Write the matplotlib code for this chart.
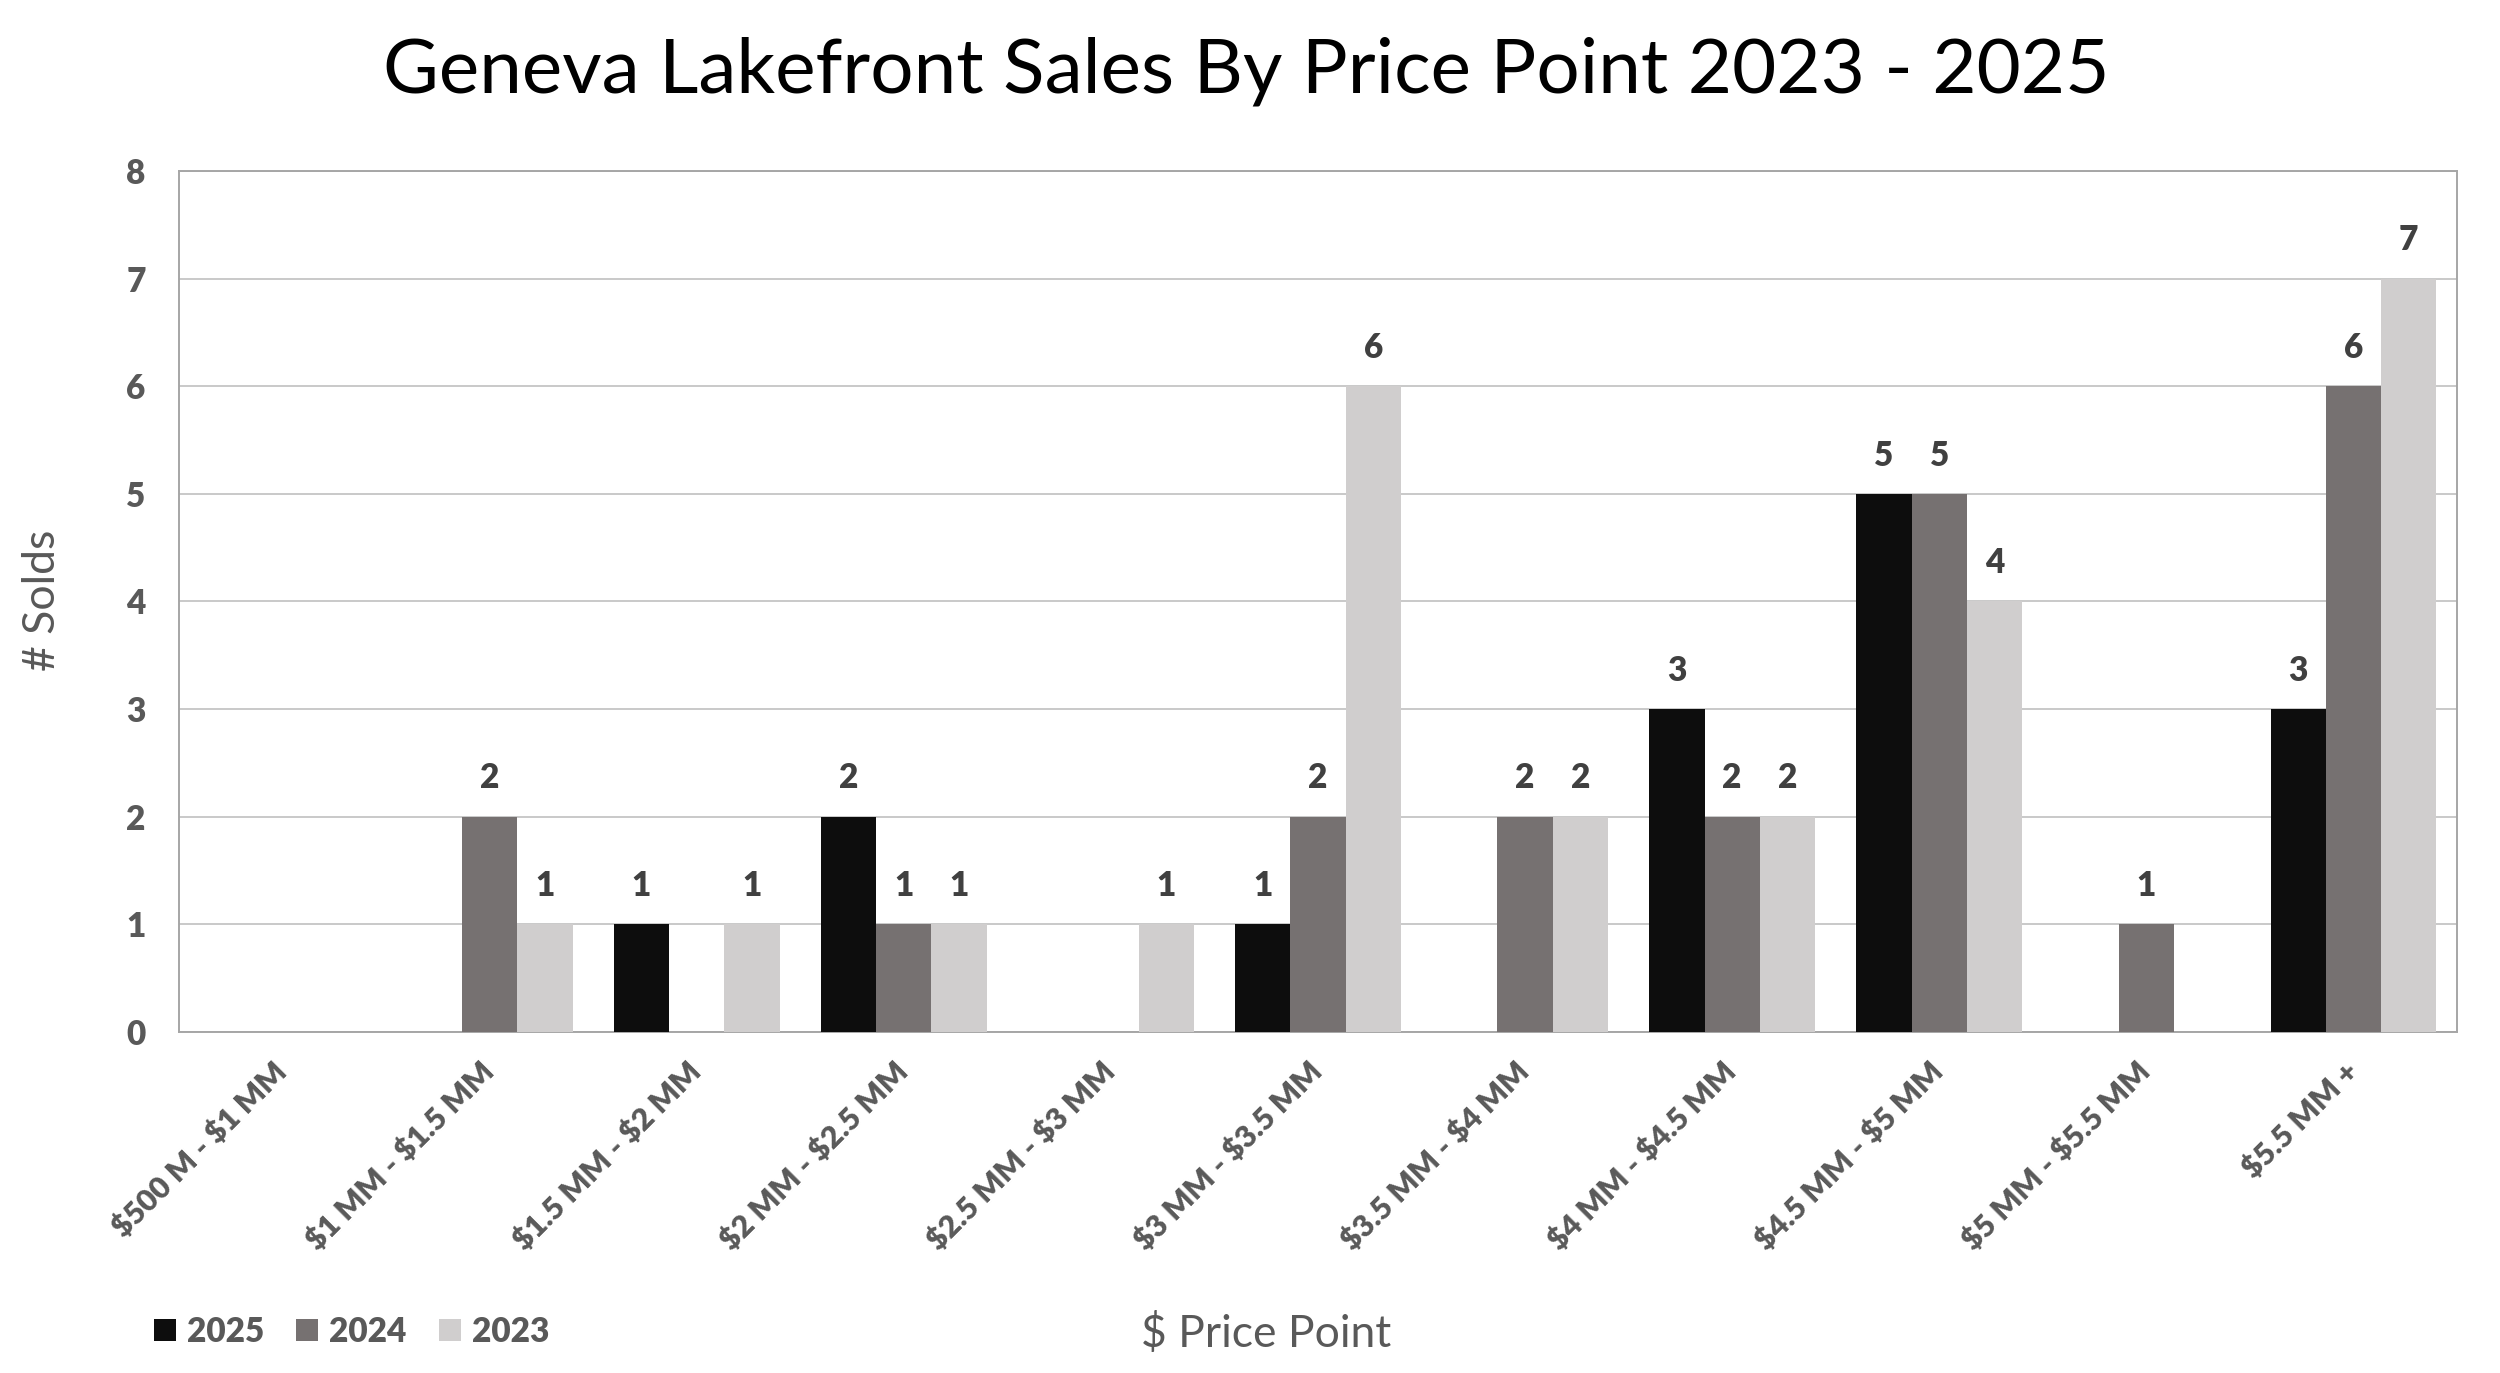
import numpy as np
import matplotlib
matplotlib.use("Agg")
import matplotlib.pyplot as plt
import matplotlib.transforms as mtransforms
from matplotlib.patches import Patch

categories = ["$500 M - $1 MM", "$1 MM - $1.5 MM", "$1.5 MM - $2 MM", "$2 MM - $2.5 MM",
              "$2.5 MM - $3 MM", "$3 MM - $3.5 MM", "$3.5 MM - $4 MM", "$4 MM - $4.5 MM",
              "$4.5 MM - $5 MM", "$5 MM - $5.5 MM", "$5.5 MM +"]
sold_2025 = [0, 0, 1, 2, 0, 1, 0, 3, 5, 0, 3]
sold_2024 = [0, 2, 0, 1, 0, 2, 2, 2, 5, 1, 6]
sold_2023 = [0, 1, 1, 1, 1, 6, 2, 2, 4, 0, 7]
years = ["2025", "2024", "2023"]
colors = ["#0d0d0d", "#767171", "#d0cece"]

plt.rcParams['font.family'] = ['Lato', 'DejaVu Sans']
plt.rcParams['text.parse_math'] = False
grey = "#595959"

fig = plt.figure(figsize=(25, 13.73), dpi=100)
ax = fig.add_axes([0.0716, 0.2484, 0.9112, 0.6271])

x = np.arange(len(categories))
w = 0.267
series = [sold_2025, sold_2024, sold_2023]
for k, vals in enumerate(series):
    bars = ax.bar(x + (k - 1) * w, vals, w, color=colors[k], zorder=3, linewidth=0)
    ax.bar_label(bars, labels=[str(v) if v else "" for v in vals], padding=16,
                 fontsize=24, fontweight='heavy', color="#404040")

ax.set_xlim(-0.5, len(categories) - 0.5)
ax.set_ylim(0, 8)
ax.set_yticks(range(9))
ax.set_yticklabels([str(v) for v in range(9)], fontweight='heavy')
ax.yaxis.grid(True, color="#c0c0c0", linewidth=1.2, zorder=0)
ax.set_axisbelow(True)
for s in ax.spines.values():
    s.set_color("#a6a6a6")
    s.set_linewidth(1.4)

ax.set_xticks(x)
ax.set_xticklabels(categories, rotation=45, ha='right', va='top', fontweight='heavy')
ax.tick_params(axis='x', length=0, pad=18, labelsize=22, labelcolor=grey)
ax.tick_params(axis='y', length=0, pad=24, labelsize=24, labelcolor=grey)
shift = mtransforms.ScaledTranslation(0.1, 0, fig.dpi_scale_trans)
for lab in ax.get_xticklabels():
    lab.set_transform(lab.get_transform() + shift)

fig.text(0.4984, 0.9323, "Geneva Lakefront Sales By Price Point 2023 - 2025",
         ha='center', va='baseline', fontsize=55, color="black")
fig.text(0.017, 0.563, "# Solds", rotation=90, ha='center', va='center',
         fontsize=32, color=grey)
fig.text(0.5064, 0.0189, "$ Price Point", ha='center', va='baseline',
         fontsize=32, color=grey)

handles = [Patch(facecolor=c) for c in colors]
leg = fig.legend(handles, years, ncol=3, loc='center left', bbox_to_anchor=(0.0616, 0.0299),
                 frameon=False, fontsize=24, handlelength=0.66, handleheight=0.66,
                 handletextpad=0.33, columnspacing=0.96, borderpad=0, borderaxespad=0)
for t in leg.get_texts():
    t.set_color(grey)
    t.set_fontweight('heavy')

fig.savefig("out.png", dpi=100, facecolor="white")
